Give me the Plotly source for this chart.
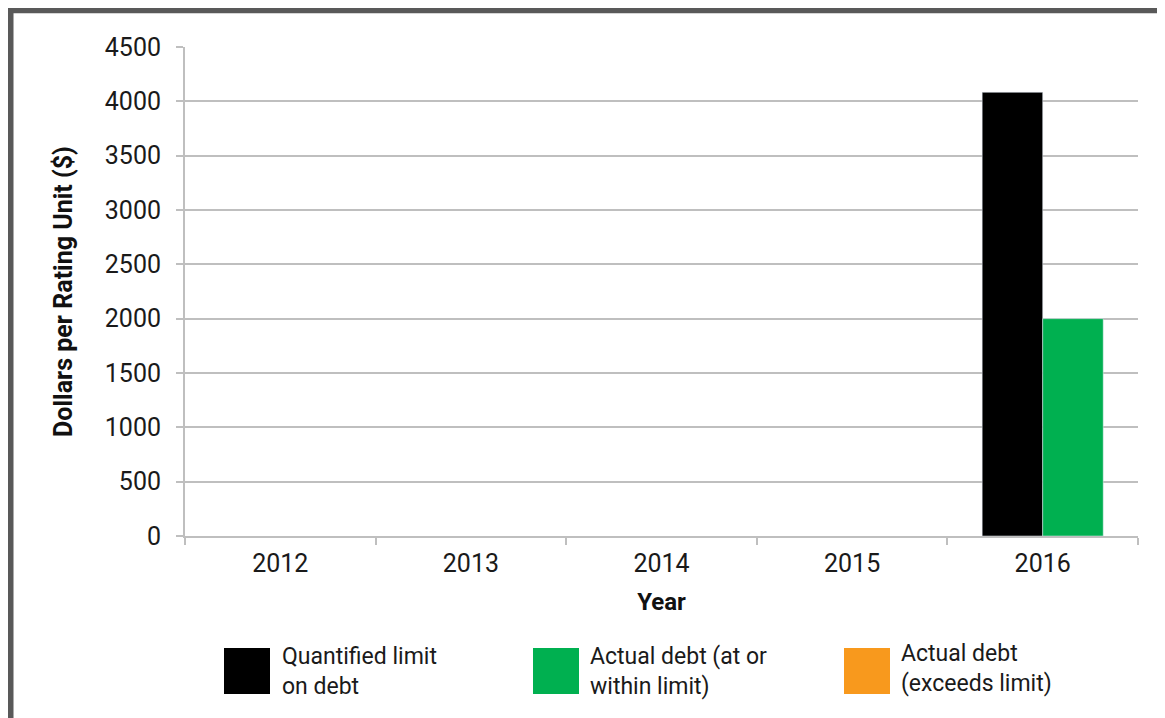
import plotly.graph_objects as go

# ---- data ----
years = ["2012", "2013", "2014", "2015", "2016"]
quantified_limit = [None, None, None, None, 4083]
actual_within = [None, None, None, None, 2000]
actual_exceeds = [None, None, None, None, None]

series_names = ["Quantified limit<br>on debt", "Actual debt (at or<br>within limit)", "Actual debt<br>(exceeds limit)"]
series_colors = ["#000000", "#00B050", "#F8991D"]
y_ticks = [0, 500, 1000, 1500, 2000, 2500, 3000, 3500, 4000, 4500]

# page has an 8px body margin: figure coords = page coords - OFF
OFF = 8
W, H = 1165 - OFF, 718 - OFF
L, T = 185 - OFF, 47 - OFF
R = W - (1138 - OFF)
B = H - (536 - OFF)
PW, PH = W - L - R, H - T - B


def px(x):
    """page pixel x -> paper"""
    return (x - OFF - L) / PW


def py(y):
    """page pixel y -> paper"""
    return (H - B - (y - OFF)) / PH


fig = go.Figure()
fig.add_trace(go.Bar(x=years, y=quantified_limit, marker_color=series_colors[0],
                     offsetgroup="limit", showlegend=False))
fig.add_trace(go.Bar(x=years, y=actual_within, marker_color=series_colors[1],
                     offsetgroup="actual", showlegend=False))
fig.add_trace(go.Bar(x=years, y=actual_exceeds, marker_color=series_colors[2],
                     offsetgroup="actual", showlegend=False))

grid = "#BFBFBF"
fig.update_layout(
    width=W, height=H,
    margin=dict(l=L, r=R, t=T, b=B, autoexpand=False),
    paper_bgcolor="white", plot_bgcolor="white",
    barmode="group", bargap=0.365, bargroupgap=0,
    font=dict(family="Roboto, sans-serif", color="#1a1a1a"),
    xaxis=dict(
        type="category", categoryorder="array", categoryarray=years,
        showline=True, linecolor=grid, linewidth=2,
        ticks="outside", tickson="boundaries", ticklen=7, tickwidth=2, tickcolor=grid,
        showgrid=False, tickfont=dict(size=25, color="#1a1a1a"),
        ticklabelstandoff=4,
        title=dict(text="Year", font=dict(size=24, weight="bold", color="#111111"), standoff=16),
    ),
    yaxis=dict(
        range=[0, 4500], tickvals=y_ticks, ticktext=[str(v) for v in y_ticks],
        showline=True, linecolor=grid, linewidth=2,
        ticks="outside", ticklen=7, tickwidth=1.5, tickcolor=grid,
        showgrid=True, gridcolor=grid, gridwidth=1.5, zeroline=False,
        tickfont=dict(size=25, color="#1a1a1a"), ticklabelstandoff=10,
        title=dict(text="Dollars per Rating Unit ($)", font=dict(size=25, weight="bold", color="#111111"), standoff=25),
    ),
)

# frame border (top and left edges, dark grey)
fig.add_shape(type="rect", xref="paper", yref="paper",
              x0=px(OFF + 2.75), x1=px(1165 + 40), y0=py(718 + 40), y1=py(OFF + 2.5),
              line=dict(color="#595959", width=5.5), fillcolor="rgba(0,0,0,0)", layer="above")

# custom legend
sq_x = [224, 533, 844]
txt_x = [280, 588, 899]
txt_y = [671, 671, 668]
for i in range(3):
    fig.add_shape(type="rect", xref="paper", yref="paper",
                  x0=px(sq_x[i]), x1=px(sq_x[i] + 46), y0=py(694), y1=py(648),
                  line=dict(width=0), fillcolor=series_colors[i])
    fig.add_annotation(xref="paper", yref="paper", x=px(txt_x[i]), y=py(txt_y[i]),
                       xanchor="left", yanchor="middle", align="left", showarrow=False,
                       text=series_names[i], font=dict(size=23, color="#1a1a1a"))

fig.write_html("out.html")
